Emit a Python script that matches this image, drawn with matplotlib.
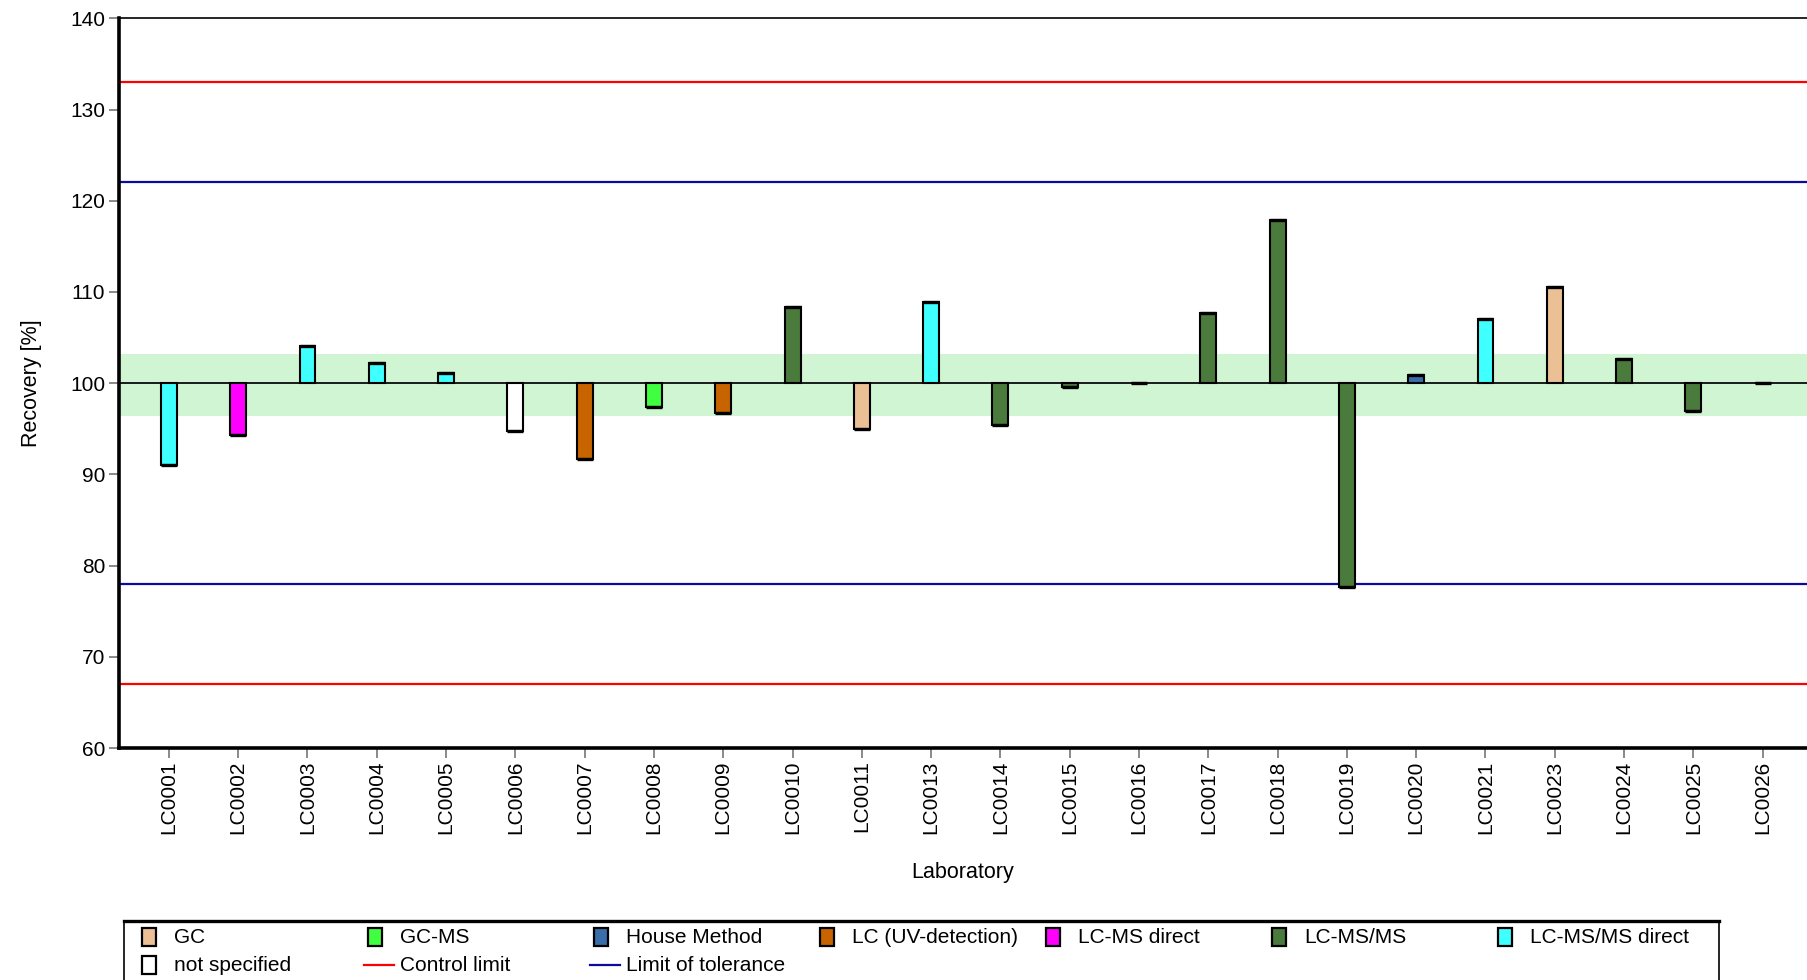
import matplotlib
matplotlib.use("Agg")
import matplotlib.pyplot as plt
from matplotlib.patches import Rectangle
from matplotlib.lines import Line2D

plt.rcParams['font.family'] = ['Liberation Sans', 'DejaVu Sans']

# ---- data ----
labs = ["LC0001", "LC0002", "LC0003", "LC0004", "LC0005", "LC0006", "LC0007", "LC0008",
        "LC0009", "LC0010", "LC0011", "LC0013", "LC0014", "LC0015", "LC0016", "LC0017",
        "LC0018", "LC0019", "LC0020", "LC0021", "LC0023", "LC0024", "LC0025", "LC0026"]
recovery = [91.0, 94.3, 104.1, 102.2, 101.1, 94.8, 91.7, 97.4,
            96.7, 108.3, 95.0, 108.9, 95.4, 99.6, 100.05, 107.7,
            117.9, 77.7, 100.9, 107.0, 110.5, 102.6, 96.9, 100.05]
methods = ["LC-MS/MS direct", "LC-MS direct", "LC-MS/MS direct", "LC-MS/MS direct",
           "LC-MS/MS direct", "not specified", "LC (UV-detection)", "GC-MS",
           "LC (UV-detection)", "LC-MS/MS", "GC", "LC-MS/MS direct", "LC-MS/MS",
           "LC-MS/MS", "LC-MS/MS", "LC-MS/MS", "LC-MS/MS", "LC-MS/MS",
           "House Method", "LC-MS/MS direct", "GC", "LC-MS/MS", "LC-MS/MS", "LC-MS/MS"]
method_names = ["GC", "GC-MS", "House Method", "LC (UV-detection)", "LC-MS direct",
                "LC-MS/MS", "LC-MS/MS direct", "not specified"]
method_colors = ["#EBC094", "#40FF40", "#3A6EAA", "#C86400", "#FF00FF",
                 "#4A7A3C", "#40FFFF", "#FFFFFF"]
reference_value = 100
control_limits = [67.0, 133.0]
tolerance_limits = [78.0, 122.0]
band = [96.4, 103.2]
yticks = [60, 70, 80, 90, 100, 110, 120, 130, 140]

color_of = dict(zip(method_names, method_colors))

fig = plt.figure(figsize=(18.07, 9.8), dpi=100)
ax = fig.add_axes([119 / 1807, 1 - 748 / 980, 1 - 119 / 1807, (748 - 18.3) / 980])

x = list(range(len(labs)))
ax.set_xlim(-0.72, 23.64)
ax.set_ylim(60, 140)

ax.axhspan(band[0], band[1], color="#CFF5D2", lw=0, zorder=0)
for v in control_limits:
    ax.axhline(v, color="#FF0000", lw=1.6, zorder=1)
for v in tolerance_limits:
    ax.axhline(v, color="#0A0AA0", lw=1.6, zorder=1)
ax.axhline(reference_value, color="#1A1A1A", lw=1.4, zorder=2)

heights = [r - reference_value for r in recovery]
cols = [color_of[m] for m in methods]
w = 0.23
ax.bar(x, heights, bottom=reference_value, width=w, color=cols,
       edgecolor="black", linewidth=1.5, zorder=3)
ax.hlines(recovery, [xi - w / 2 for xi in x], [xi + w / 2 for xi in x],
          color="black", lw=2.4, zorder=4)

ax.set_yticks(yticks)
ax.set_xticks(x)
ax.set_xticklabels(labs, rotation=90, fontsize=15)
ax.tick_params(axis="y", labelsize=15, length=7, width=1.3, color="#808080",
               direction="out", pad=3)
ax.tick_params(axis="x", length=7, width=1.3, color="#808080", direction="out", pad=2)

ax.spines["right"].set_visible(False)
ax.spines["left"].set_linewidth(2.6)
ax.spines["bottom"].set_linewidth(2.6)
ax.spines["top"].set_linewidth(1.2)

ax.set_xlabel("Laboratory", fontsize=15.5, labelpad=20)
ax.set_ylabel("Recovery [%]", fontsize=15.5, labelpad=20)

# ---- legend (manual grid, 7 equal-width columns) ----
leg_left, leg_right, leg_top = 124 / 1807, 1719 / 1807, 1 - 921 / 980
frame = Rectangle((leg_left, -0.05), leg_right - leg_left, leg_top + 0.05,
                  transform=fig.transFigure, fill=False, edgecolor="black", lw=1.2)
fig.add_artist(frame)
fig.add_artist(Line2D([leg_left, leg_right], [leg_top, leg_top], transform=fig.transFigure,
                      color="black", lw=2.4))
entries = [(n, "patch", c) for n, c in zip(method_names, method_colors)]
entries += [("Control limit", "line", "#FF0000"), ("Limit of tolerance", "line", "#0A0AA0")]
col_w = 226
for i, (name, kind, c) in enumerate(entries):
    row, col = divmod(i, 7)
    px = 142 + col * col_w
    py = 937 + row * 28
    if kind == "patch":
        fig.add_artist(Rectangle((px / 1807, 1 - (py + 9) / 980), 14 / 1807, 18 / 980,
                                 transform=fig.transFigure, facecolor=c, edgecolor="black", lw=1.6))
    else:
        fig.add_artist(Line2D([(px - 4) / 1807, (px + 26) / 1807], [1 - py / 980, 1 - py / 980],
                              transform=fig.transFigure, color=c, lw=1.6))
    fig.text((px + 32) / 1807, 1 - py / 980, name, fontsize=15, va="center", ha="left")

fig.savefig("out.png", dpi=100)
